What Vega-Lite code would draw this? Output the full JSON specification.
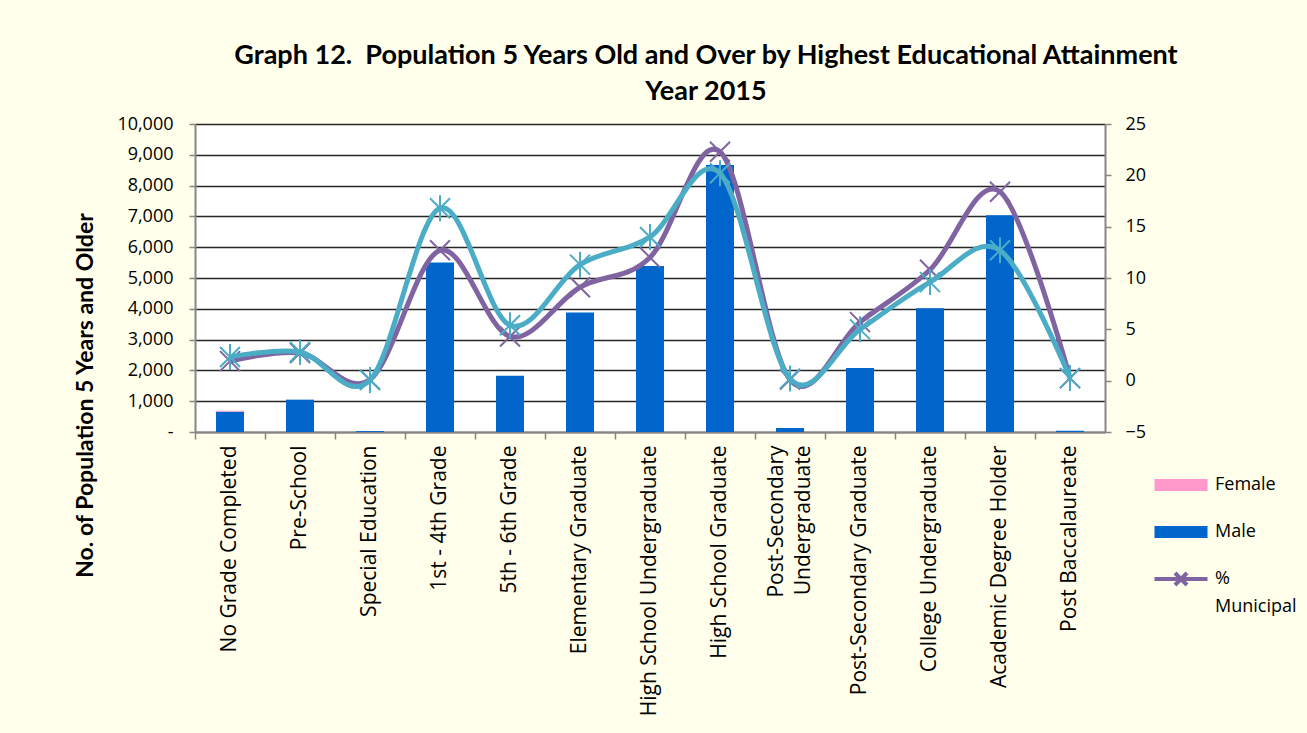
{
  "$schema": "https://vega.github.io/schema/vega-lite/v6.json",
  "width": 910,
  "height": 308,
  "autosize": {"type": "none"},
  "padding": {"left": 195, "top": 124, "right": 202, "bottom": 301},
  "background": "#FFFFEB",
  "config": {
    "view": {"fill": "white", "stroke": null},
    "font": "Open Sans",
    "style": {"guide-label": {"lineHeight": 28}}
  },
  "title": {
    "text": ["Graph 12.\u00a0 Population 5 Years Old and Over by Highest Educational Attainment", "Year 2015"],
    "font": "Lato",
    "fontSize": 27,
    "fontWeight": "bold",
    "color": "black",
    "anchor": "middle",
    "dx": 56,
    "offset": 9,
    "lineHeight": 36
  },
  "datasets": {
    "bars": [
      {"cat": "No Grade Completed", "sex": "Male", "value": 660},
      {"cat": "No Grade Completed", "sex": "Female", "value": 30},
      {"cat": "Pre-School", "sex": "Male", "value": 1050},
      {"cat": "Special Education", "sex": "Male", "value": 30},
      {"cat": "1st - 4th Grade", "sex": "Male", "value": 5500},
      {"cat": "5th - 6th Grade", "sex": "Male", "value": 1830},
      {"cat": "Elementary Graduate", "sex": "Male", "value": 3880},
      {"cat": "High School Undergraduate", "sex": "Male", "value": 5390},
      {"cat": "High School Graduate", "sex": "Male", "value": 8670},
      {"cat": "Post-Secondary Undergraduate", "sex": "Male", "value": 130},
      {"cat": "Post-Secondary Graduate", "sex": "Male", "value": 2080},
      {"cat": "College Undergraduate", "sex": "Male", "value": 4020},
      {"cat": "Academic Degree Holder", "sex": "Male", "value": 7040},
      {"cat": "Post Baccalaureate", "sex": "Male", "value": 40}
    ],
    "pct": [
      {"cat": "No Grade Completed", "muni": 1.9, "other": 2.3},
      {"cat": "Pre-School", "muni": 2.7, "other": 2.8},
      {"cat": "Special Education", "muni": 0.1, "other": 0.07},
      {"cat": "1st - 4th Grade", "muni": 12.7, "other": 16.8},
      {"cat": "5th - 6th Grade", "muni": 4.3, "other": 5.4},
      {"cat": "Elementary Graduate", "muni": 9.1, "other": 11.3},
      {"cat": "High School Undergraduate", "muni": 12.0, "other": 14.0},
      {"cat": "High School Graduate", "muni": 22.3, "other": 20.2},
      {"cat": "Post-Secondary Undergraduate", "muni": 0.1, "other": 0.2},
      {"cat": "Post-Secondary Graduate", "muni": 5.7, "other": 5.0},
      {"cat": "College Undergraduate", "muni": 10.8, "other": 9.6},
      {"cat": "Academic Degree Holder", "muni": 18.4, "other": 12.7},
      {"cat": "Post Baccalaureate", "muni": 0.25, "other": 0.25}
    ]
  },
  "resolve": {"scale": {"y": "independent"}, "axis": {"x": "independent"}},
  "layer": [
    {
      "data": {"name": "bars"},
      "mark": {"type": "bar", "width": {"band": 0.4}},
      "encoding": {
        "x": {
          "field": "cat",
          "type": "nominal",
          "sort": ["No Grade Completed", "Pre-School", "Special Education", "1st - 4th Grade", "5th - 6th Grade", "Elementary Graduate", "High School Undergraduate", "High School Graduate", "Post-Secondary Undergraduate", "Post-Secondary Graduate", "College Undergraduate", "Academic Degree Holder", "Post Baccalaureate"],
          "scale": {"paddingInner": 0, "paddingOuter": 0},
          "axis": {
            "orient": "bottom",
            "title": null,
            "labelAngle": -90,
            "labelFont": "Open Sans",
            "labelFontSize": 21,
            "labelColor": "black",
            "labelLimit": 0,
            "labelPadding": 13,
            "labelLineHeight": 27,
            "ticks": false,
            "domain": true,
            "domainColor": "#868686",
            "domainWidth": 2,
            "labelOffset": {"expr": "datum.label == 'Post-Secondary Undergraduate' ? -13 : 0"},
            "labelExpr": "datum.label == 'Post-Secondary Undergraduate' ? ['Post-Secondary', 'Undergraduate'] : datum.label"
          }
        },
        "y": {
          "field": "value",
          "type": "quantitative",
          "stack": "zero",
          "scale": {"domain": [0, 10000], "nice": false},
          "axis": {
            "orient": "left",
            "values": [0, 1000, 2000, 3000, 4000, 5000, 6000, 7000, 8000, 9000, 10000],
            "labelExpr": "datum.value == 0 ? '-' : format(datum.value, ',')",
            "labelFont": "Open Sans",
            "labelFontSize": 18,
            "labelColor": "black",
            "labelPadding": 16,
            "domainColor": "#868686",
            "domainWidth": 2,
            "tickColor": "#868686",
            "tickSize": 6,
            "tickWidth": 1.5,
            "grid": true,
            "gridColor": "#262626",
            "gridWidth": 1.3,
            "title": "No. of Population 5 Years and Older",
            "titleFont": "Lato",
            "titleFontSize": 23,
            "titleFontWeight": "bold",
            "titleColor": "black",
            "titleAngle": -90,
            "titleX": -110,
            "titleY": 271,
            "titleAlign": "center",
            "titleBaseline": "middle"
          }
        },
        "color": {
          "field": "sex",
          "type": "nominal",
          "scale": {"domain": ["Female", "Male", "% Municipal"], "range": ["#FF99CC", "#0066CC", "#8064A2"]},
          "legend": {
            "orient": "none",
            "legendX": 974,
            "legendY": 349,
            "title": null,
            "padding": 0,
            "symbolType": "M-2.65,-0.6H2.65V0.6H-2.65Z",
            "symbolSize": 400,
            "labelFont": "Open Sans",
            "labelFontSize": 18,
            "labelColor": "black",
            "labelOffset": 22,
            "rowPadding": 19,
            "labelExpr": "datum.label == '% Municipal' ? ['%', 'Municipal'] : datum.label",
            "encode": {
              "symbols": {
                "update": {
                  "shape": {"signal": "datum.label == '% Municipal' ? 'M-2.65,0H2.65M-0.6,-0.6L0.6,0.6M-0.6,0.6L0.6,-0.6' : 'M-2.65,-0.6H2.65V0.6H-2.65Z'"},
                  "stroke": {"signal": "datum.label == '% Municipal' ? '#8064A2' : 'transparent'"},
                  "strokeWidth": {"value": 4}
                }
              }
            }
          }
        },
        "order": {"field": "sex", "sort": "descending"}
      }
    },
    {
      "data": {"name": "pct"},
      "encoding": {
        "x": {
          "field": "cat",
          "type": "nominal",
          "sort": ["No Grade Completed", "Pre-School", "Special Education", "1st - 4th Grade", "5th - 6th Grade", "Elementary Graduate", "High School Undergraduate", "High School Graduate", "Post-Secondary Undergraduate", "Post-Secondary Graduate", "College Undergraduate", "Academic Degree Holder", "Post Baccalaureate"],
          "axis": {
            "orient": "bottom",
            "title": null,
            "labels": false,
            "domain": false,
            "grid": false,
            "ticks": true,
            "bandPosition": 0,
            "tickSize": 7,
            "tickColor": "#868686",
            "tickWidth": 1.5
          }
        }
      },
      "layer": [
        {
          "mark": {"type": "line", "interpolate": "cardinal", "strokeWidth": 5, "color": "#8064A2"},
          "encoding": {
            "y": {
              "field": "muni",
              "type": "quantitative",
              "scale": {"domain": [-5, 25], "nice": false},
              "axis": {
                "orient": "right",
                "values": [-5, 0, 5, 10, 15, 20, 25],
                "grid": false,
                "title": null,
                "labelFont": "Open Sans",
                "labelFontSize": 18,
                "labelColor": "black",
                "labelPadding": 14,
                "domainColor": "#868686",
                "domainWidth": 2,
                "tickColor": "#868686",
                "tickSize": 6,
                "tickWidth": 1.5
              }
            }
          }
        },
        {
          "mark": {"type": "point", "shape": "M-1,-1L1,1M-1,1L1,-1", "size": 400, "filled": false, "strokeWidth": 2, "color": "#8064A2", "opacity": 1},
          "encoding": {"y": {"field": "muni", "type": "quantitative"}}
        },
        {
          "mark": {"type": "line", "interpolate": "cardinal", "strokeWidth": 5, "color": "#4BACC6"},
          "encoding": {"y": {"field": "other", "type": "quantitative"}}
        },
        {
          "mark": {"type": "point", "shape": "M-1,-1L1,1M-1,1L1,-1M0,-1.3L0,1.3", "size": 400, "filled": false, "strokeWidth": 2, "color": "#4BACC6", "opacity": 1},
          "encoding": {"y": {"field": "other", "type": "quantitative"}}
        }
      ]
    }
  ]
}
